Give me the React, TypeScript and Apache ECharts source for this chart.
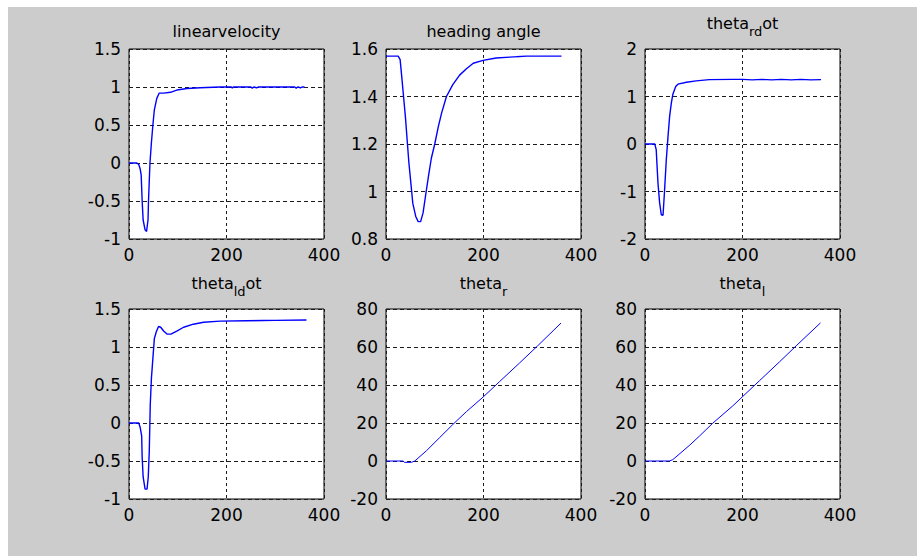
import React, { useEffect, useRef } from "react";
import * as echarts from "echarts";

// ---- data (x = sample, y = value) ----
const linearVelocity: [number, number][] = [
  [0, 0], [16, 0], [20, -0.02], [23, -0.08], [25, -0.16], [27, -0.5], [29, -0.75], [33, -0.88],
  [36, -0.9], [39, -0.75], [40, -0.5], [43, 0], [46, 0.27], [49, 0.5], [52, 0.7], [57, 0.85],
  [62, 0.92], [71, 0.92], [85, 0.93], [98, 0.96], [119, 0.98], [146, 0.99], [187, 1.0], [210, 1.0],
  [212, 0.985], [214, 1.0], [250, 1.0], [253, 0.985], [256, 1.0], [262, 0.99], [265, 1.0],
  [340, 1.0], [343, 0.985], [346, 1.0], [352, 0.99], [355, 1.0], [360, 1.0],
];

const headingAngle: [number, number][] = [
  [0, 1.57], [25, 1.57], [29, 1.555], [32, 1.49], [36, 1.4], [40, 1.31], [44, 1.2], [47, 1.12],
  [51, 1.035], [55, 0.95], [61, 0.895], [66, 0.873], [71, 0.873], [76, 0.91], [81, 0.98],
  [87, 1.063], [93, 1.14], [100, 1.2], [107, 1.27], [114, 1.33], [124, 1.4], [137, 1.45],
  [151, 1.49], [165, 1.517], [179, 1.54], [199, 1.552], [226, 1.562], [254, 1.566], [288, 1.57],
  [360, 1.57],
];

const thetaRDot: [number, number][] = [
  [0, 0], [20, 0], [23, -0.12], [26.6, -0.82], [30, -1.24], [33.4, -1.49], [37, -1.5], [40, -1.0],
  [43.7, -0.33], [47, 0.13], [50.5, 0.58], [54, 0.86], [57, 1.04], [63, 1.21], [67.6, 1.26],
  [85, 1.3], [105, 1.33], [132, 1.355], [180, 1.36], [200, 1.36], [220, 1.35], [240, 1.36],
  [260, 1.35], [280, 1.36], [300, 1.35], [320, 1.36], [340, 1.35], [361, 1.355],
];

const thetaLDot: [number, number][] = [
  [0, 0], [20, 0], [23, -0.06], [26, -0.17], [27, -0.45], [29, -0.71], [33, -0.87], [37, -0.87],
  [39.5, -0.71], [41.6, -0.37], [43.6, 0.24], [46, 0.59], [49, 0.85], [52, 1.11], [56, 1.2],
  [60.6, 1.27], [65, 1.26], [71, 1.21], [78, 1.17], [86, 1.17], [98, 1.21], [112, 1.26],
  [132, 1.3], [153, 1.325], [187, 1.34], [241, 1.345], [300, 1.35], [364, 1.355],
];

const thetaR: [number, number][] = [
  [0, 0], [35, 0], [38, -0.7], [52, -0.7], [59, 0], [83, 5.4], [110, 12.3], [137, 19.2],
  [165, 26.0], [199, 33.6], [233, 41.8], [274, 51.6], [311, 60.6], [359, 72.6],
];

const thetaL: [number, number][] = [
  [0, 0], [50, 0], [57, 0.7], [92, 8.4], [112, 13.2], [139, 19.9], [180, 29.0], [199, 33.6],
  [235, 42.3], [276, 52.2], [310, 60.6], [360, 72.7],
];

const panelTitles = [
  "{m|linearvelocity}",
  "{m|heading angle}",
  "{m|theta}{s|rd}{m|ot}",
  "{m|theta}{s|ld}{m|ot}",
  "{m|theta}{s|r}",
  "{m|theta}{s|l}",
];
const hasSub = [false, false, true, true, true, true];

const yMins = [-1, 0.8, -2, -1, -20, -20];
const yMaxs = [1.5, 1.6, 2, 1.5, 80, 80];
const yIntervals = [0.5, 0.2, 1, 0.5, 20, 20];
const xMin = 0;
const xMax = 400;
const xInterval = 200;

const seriesData = [linearVelocity, headingAngle, thetaRDot, thetaLDot, thetaR, thetaL];

export default function App() {
  const ref = useRef<HTMLDivElement>(null);

  useEffect(() => {
    if (!ref.current) return;
    const chart = echarts.init(ref.current, undefined, { renderer: "svg" });

    const colLefts = [121, 378, 637];
    const rowTops = [42, 302];
    const gw = 195;
    const gh = 190;
    const font = "DejaVu Sans";

    const grids: any[] = [];
    const xAxes: any[] = [];
    const yAxes: any[] = [];
    const series: any[] = [];
    const graphics: any[] = [];

    for (let i = 0; i < 6; i++) {
      const c = i % 3;
      const r = Math.floor(i / 3);
      grids.push({
        left: colLefts[c],
        top: rowTops[r],
        width: gw,
        height: gh,
        show: true,
        backgroundColor: "#ffffff",
        borderColor: "#000000",
        borderWidth: 1,
        containLabel: false,
      });
      xAxes.push({
        type: "value",
        gridIndex: i,
        min: xMin,
        max: xMax,
        interval: xInterval,
        axisLine: { show: false },
        axisTick: { show: false },
        axisLabel: { color: "#000", fontFamily: font, fontSize: 17, margin: 7 },
        splitLine: { show: true, lineStyle: { color: "#1a1a1a", width: 1, type: [3, 3] } },
      });
      yAxes.push({
        type: "value",
        gridIndex: i,
        min: yMins[i],
        max: yMaxs[i],
        interval: yIntervals[i],
        axisLine: { show: false },
        axisTick: { show: false },
        axisLabel: { color: "#000", fontFamily: font, fontSize: 17, margin: 8 },
        splitLine: { show: true, lineStyle: { color: "#1a1a1a", width: 1, type: [4, 3] } },
      });
      series.push({
        type: "line",
        xAxisIndex: i,
        yAxisIndex: i,
        data: seriesData[i],
        showSymbol: false,
        symbol: "none",
        lineStyle: { color: "#0000ff", width: i >= 4 ? 1 : 1.4 },
        z: 3,
      });
      const cx = colLefts[c] + gw / 2;
      let ty: number;
      if (hasSub[i]) ty = r === 0 ? 8 : 268;
      else ty = 24;
      graphics.push({
        type: "text",
        x: cx,
        y: ty,
        style: {
          text: panelTitles[i],
          align: "center",
          verticalAlign: hasSub[i] ? "top" : "middle",
          fill: "#000",
          rich: {
            m: { fontFamily: font, fontSize: 16, fill: "#000", verticalAlign: "top" },
            s: { fontFamily: font, fontSize: 13, fill: "#000", verticalAlign: "top", padding: [10, 0, 0, 0] },
          },
        },
      });
    }

    chart.setOption({
      animation: false,
      backgroundColor: "#cccccc",
      grid: grids,
      xAxis: xAxes,
      yAxis: yAxes,
      series,
      graphic: graphics,
    });

    return () => chart.dispose();
  }, []);

  return (
    <div
      ref={ref}
      style={{
        position: "fixed",
        left: 8,
        top: 7,
        width: 909,
        height: 549,
        background: "#cccccc",
      }}
    />
  );
}
